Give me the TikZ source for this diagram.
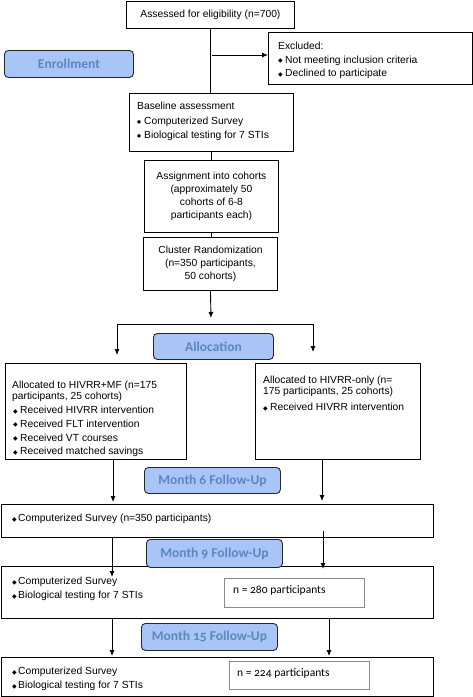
\documentclass[tikz,border=0pt]{standalone}
\usepackage{fontspec}
\setmainfont{Liberation Sans}
\newfontfamily\calib[Numbers=OldStyle]{Carlito}
\newfontfamily\dejavu{DejaVu Sans}
\usetikzlibrary{arrows.meta}
\definecolor{lblfill}{HTML}{A9C4F6}
\definecolor{lbltext}{HTML}{5B87BE}
\definecolor{innergray}{HTML}{8A8A8A}
\newcommand{\bl}{\makebox[7pt][l]{\raisebox{0.4pt}{\dejavu\fontsize{6}{6}\selectfont ◆}}}
\newcommand{\bs}{\makebox[6pt][l]{\raisebox{0.4pt}{\dejavu\fontsize{6}{6}\selectfont ◆}}}
\newcommand{\bd}{\makebox[7pt][l]{\raisebox{1pt}{\dejavu\fontsize{4.5}{5}\selectfont ●}}}
\tikzset{
  box/.style={draw=black, line width=0.9pt, fill=white, anchor=north west, inner sep=0pt, align=center,
    font=\fontsize{10.3}{13}\selectfont},
  inbox/.style={draw=innergray, line width=0.9pt, fill=white, anchor=north west, inner sep=0pt},
  lbl/.style={draw=black!85, line width=0.9pt, fill=lblfill, rounded corners=4pt, anchor=north west,
    inner sep=0pt, text=lbltext, font=\calib\bfseries\fontsize{13.5}{14}\selectfont},
  txt/.style={inner sep=0pt, align=left, anchor=north west, font=\fontsize{10.3}{13.5}\selectfont},
  ntxt/.style={inner sep=0pt, anchor=west, font=\calib\fontsize{11.5}{12}\selectfont},
  ln/.style={draw=black, line width=0.9pt},
  arr/.style={draw=black, line width=0.9pt, -{Latex[length=6pt,width=5pt]}}
}
\begin{document}
\begin{tikzpicture}[x=1pt,y=-1pt]
\useasboundingbox (0,0) rectangle (473,697);

% boxes
\node[box, minimum width=168pt, minimum height=27pt] (assess) at (126,1) {Assessed for eligibility (n=700)};
\node[box, minimum width=204pt, minimum height=52pt] (excl) at (268,32) {};
\node[lbl, minimum width=129pt, minimum height=27pt] (enroll) at (4,50) {Enrollment};
\node[box, minimum width=164pt, minimum height=58pt] (base) at (129,93) {};
\node[box, minimum width=134pt, minimum height=72pt] (assign) at (144,160)
  {Assignment into cohorts\\(approximately 50\\cohorts of 6-8\\participants each)};
\node[box, minimum width=134pt, minimum height=53pt] (cluster) at (143,237)
  {Cluster Randomization\\(n=350 participants,\\50 cohorts)};
\node[lbl, minimum width=120pt, minimum height=26pt] (alloc) at (153,333) {Allocation};
\node[box, minimum width=181pt, minimum height=96pt] (leftbox) at (5,363) {};
\node[box, minimum width=165pt, minimum height=96pt] (rightbox) at (255,363) {};
\node[box, minimum width=432pt, minimum height=33pt] (m6box) at (1,504) {};
\node[lbl, minimum width=136pt, minimum height=26pt] (m6) at (144,467) {Month 6 Follow-Up};
\node[box, minimum width=432pt, minimum height=52pt] (m9box) at (1,566) {};
\node[lbl, minimum width=136pt, minimum height=28pt] (m9) at (146,539) {Month 9 Follow-Up};
\node[inbox, minimum width=140pt, minimum height=29pt] (n280) at (224,578) {};
\node[box, minimum width=432pt, minimum height=39pt] (finalbox) at (1,657) {};
\node[lbl, minimum width=136pt, minimum height=27pt] (m15) at (141,623) {Month 15 Follow-Up};
\node[inbox, minimum width=140pt, minimum height=28pt] (n224) at (229,661) {};

% texts
\node[txt] (excltxt) at (278,42) {Excluded:\\\bl Not meeting inclusion criteria\\\bl Declined to participate};
\node[txt, font=\fontsize{10.3}{14.5}\selectfont] (basetxt) at (137,102)
  {Baseline assessment\\\bd Computerized Survey\\\bd Biological testing for 7 STIs};
\node[txt, font=\fontsize{10.3}{11}\selectfont] (lefttxt) at (12,381)
  {Allocated to HIVRR+MF (n=175\\participants, 25 cohorts)\\[2.8pt]
   \makebox[1pt][l]{}\bl Received HIVRR intervention\\[2.8pt]
   \makebox[1pt][l]{}\bl Received FLT intervention\\[2.8pt]
   \makebox[1pt][l]{}\bl Received VT courses\\[2.8pt]
   \makebox[1pt][l]{}\bl Received matched savings};
\node[txt, font=\fontsize{10.3}{11}\selectfont] (righttxt) at (263,376)
  {Allocated to HIVRR-only (n=\\175 participants, 25 cohorts)\\[5pt]
   \bl Received HIVRR intervention};
\node[txt, anchor=west] (m6txt) at (12,519) {\bs Computerized Survey (n=350 participants)};
\node[txt, font=\fontsize{10.3}{14}\selectfont] (m9txt) at (12,577)
  {\bs Computerized Survey\\\bs Biological testing for 7 STIs};
\node[txt, font=\fontsize{10.3}{14}\selectfont] (m15txt) at (12,667)
  {\bs Computerized Survey\\\bs Biological testing for 7 STIs};
\node[ntxt] (n280txt) at (233,590) {n = 280 participants};
\node[ntxt] (n224txt) at (237,673) {n = 224 participants};

% connector coordinates
\coordinate (exs) at (212,55);
\coordinate (splitarr) at (211,318);
\coordinate (hl) at (117,324);
\coordinate (hr) at (313,324);
\coordinate (la) at (117,355);
\coordinate (ra) at (313,352);
\coordinate (l6) at (113,502);
\coordinate (r6) at (322,501);
\coordinate (l9) at (112,577);
\coordinate (r9s) at (323,531);
\coordinate (r9) at (323,569);
\coordinate (l15) at (112,656);
\coordinate (r15) at (329,656);

% connectors
\draw[ln] (assess.south) -- (assess.south |- base.north);
\draw[arr] (exs) -- (exs -| excl.west);
\draw[ln] (base.south) -- (base.south |- assign.north);
\draw[ln] (assign.south) -- (assign.south |- cluster.north);
\draw[arr] (cluster.south) -- (splitarr);
\draw[ln] (hl) -- (hr);
\draw[arr] (hl) -- (la);
\draw[arr] (hr) -- (ra);
\draw[arr] (leftbox.south -| l6) -- (l6);
\draw[arr] (rightbox.south -| r6) -- (r6);
\draw[arr] (m6box.south -| l9) -- (l9);
\draw[arr] (r9s) -- (r9);
\draw[arr] (m9box.south -| l15) -- (l15);
\draw[arr] (m9box.south -| r15) -- (r15);
\end{tikzpicture}
\end{document}
